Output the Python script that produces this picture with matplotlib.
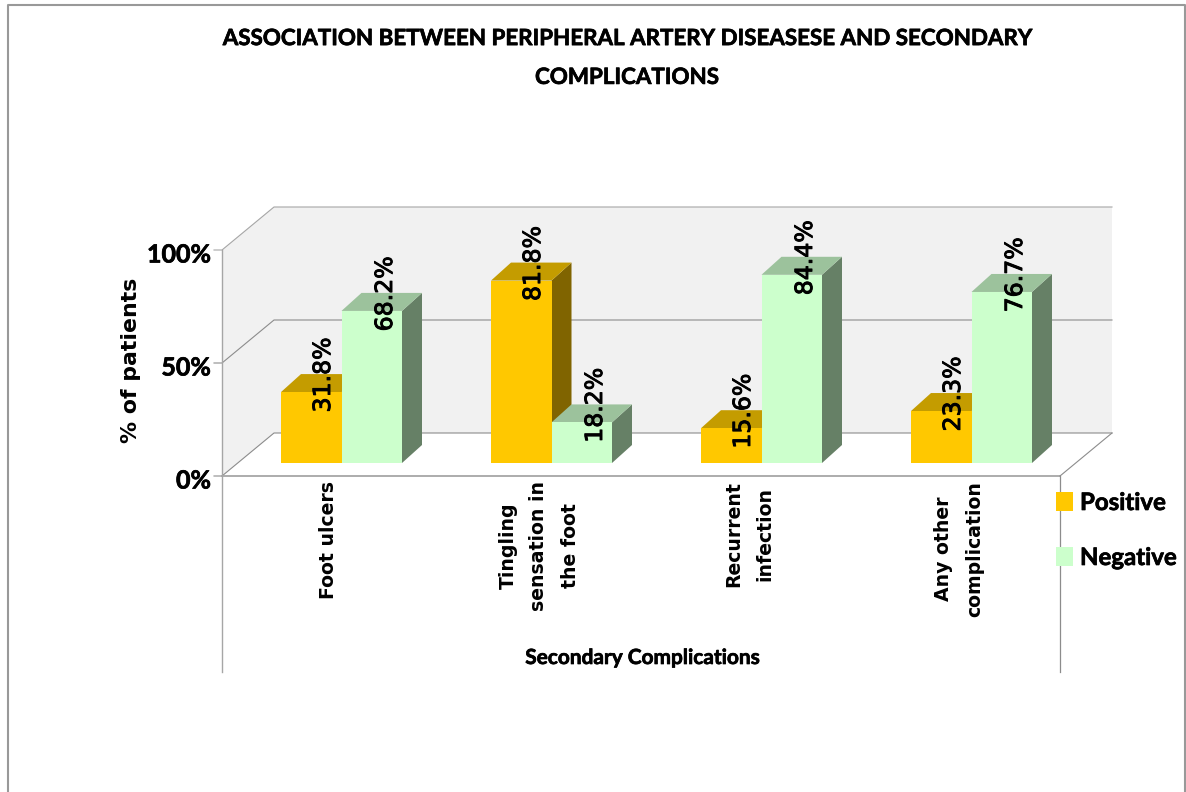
import matplotlib
matplotlib.use("Agg")
import matplotlib.pyplot as plt
import matplotlib.patheffects as pe
from matplotlib.patches import Polygon, Rectangle
from matplotlib.lines import Line2D

title = "ASSOCIATION BETWEEN PERIPHERAL ARTERY DISEASESE AND SECONDARY\nCOMPLICATIONS"
categories = ["Foot ulcers", "Tingling\nsensation in\nthe foot", "Recurrent\ninfection", "Any other\ncomplication"]
positive = [31.8, 81.8, 15.6, 23.3]
negative = [68.2, 18.2, 84.4, 76.7]
y_ticks = [0, 50, 100]
series_names = ["Positive", "Negative"]

W, H = 1186, 792
fig = plt.figure(figsize=(W / 100, H / 100), dpi=100, facecolor="white")
ax = fig.add_axes([0, 0, 1, 1])
ax.set_xlim(0, W)
ax.set_ylim(H, 0)
ax.axis("off")

# pixel geometry of the pseudo-3D plot box
x_front, x_right = 222, 1060
y0_front, y100_front = 476, 250
dx, dy = 52, -43
bar_base_y = 463
unit = 2.23
group_x = [281, 491, 701, 911]
bar_w = 60.5
depth_x, depth_y = 20, -18

POS_C = ("#ffc800", "#c49c00", "#806400")
NEG_C = ("#ccffcc", "#9cc29c", "#668066")
GRID = "#8c8c8c"
LIGHT = "#a6a6a6"

# Lato bold is a little thin at these sizes, so fatten it slightly
heavy = [pe.withStroke(linewidth=0.5, foreground="black")]
label_stroke = [pe.withStroke(linewidth=0.7, foreground="black")]


def poly(points, color, z=2):
    ax.add_patch(Polygon(points, closed=True, facecolor=color, edgecolor="none", zorder=z))


# outer chart frame, open at the bottom
ax.add_line(Line2D([8, 8, 1185, 1185], [H, 5, 5, H], color="#999999", lw=1.5, zorder=1))

# back wall and side wall
poly([(x_front + dx, y100_front + dy), (x_right + dx, y100_front + dy), (x_right + dx, y0_front + dy),
      (x_front + dx, y0_front + dy)], "#f1f1f1", z=1)
poly([(x_front, y100_front), (x_front + dx, y100_front + dy), (x_front + dx, y0_front + dy),
      (x_front, y0_front)], "#f1f1f1", z=1)

# gridlines, running along the side wall then across the back
for t in y_ticks:
    y = y0_front - t * (y0_front - y100_front) / 100
    color = LIGHT if t == 100 else GRID
    ax.add_line(Line2D([x_front - 8, x_front, x_front + dx, x_right + dx],
                       [y, y, y + dy, y + dy], color=color, lw=0.8, zorder=1.5))
    ax.text(211, y + 5, f"{t}%", ha="right", va="center", fontsize=18, fontweight="bold",
            family="Lato", color="black", path_effects=heavy)

# floor edges and axis lines
ax.add_line(Line2D([x_front, x_right], [y0_front, y0_front], color=LIGHT, lw=1.3, zorder=1.5))
ax.add_line(Line2D([x_right, x_right + dx], [y0_front, y0_front + dy], color=GRID, lw=0.8, zorder=1.5))
ax.add_line(Line2D([x_front, x_front], [y100_front, 672], color=LIGHT, lw=1.0, zorder=1.5))
ax.add_line(Line2D([x_right, x_right], [y0_front, 672], color=GRID, lw=0.9, zorder=1.5))


def bar3d(x, value, colors, z):
    top = bar_base_y - value * unit
    front, cap, side = colors
    poly([(x + bar_w, bar_base_y), (x + bar_w + depth_x, bar_base_y + depth_y),
          (x + bar_w + depth_x, top + depth_y), (x + bar_w, top)], side, z)
    poly([(x, top), (x + depth_x, top + depth_y), (x + bar_w + depth_x, top + depth_y), (x + bar_w, top)], cap, z)
    ax.add_patch(Rectangle((x, top), bar_w, bar_base_y - top, facecolor=front, edgecolor="none", zorder=z))
    return top


for i, gx in enumerate(group_x):
    top_p = bar3d(gx, positive[i], POS_C, 3 + i)
    top_n = bar3d(gx + bar_w, negative[i], NEG_C, 3.5 + i)
    ax.text(gx + 42, top_p - 17, f"{positive[i]:.1f}%", rotation=90, ha="center", va="center",
            fontsize=17, family="DejaVu Sans", zorder=10, path_effects=label_stroke)
    ax.text(gx + 104, top_n - 17, f"{negative[i]:.1f}%", rotation=90, ha="center", va="center",
            fontsize=17, family="DejaVu Sans", zorder=10, path_effects=label_stroke)
    ax.text(gx + 48, 481, categories[i], rotation=90, ha="center", va="top", multialignment="center",
            fontsize=13.6, fontweight="bold", family="DejaVu Sans", linespacing=1.8, zorder=10)

ax.text(627, 58, title, ha="center", va="center", fontsize=16.1, fontweight="bold",
        family="Lato", linespacing=2.05, path_effects=heavy)
ax.text(643, 658, "Secondary Complications", ha="center", va="center", fontsize=15, fontweight="bold",
        family="Lato", path_effects=heavy)
ax.text(131, 360, "% of patients", rotation=90, ha="center", va="center", fontsize=15.8, fontweight="bold",
        family="DejaVu Sans")

# legend
for y, name, c in zip([501.5, 556.5], series_names, [POS_C[0], NEG_C[0]]):
    ax.add_patch(Rectangle((1056, y - 9.5), 17, 19, facecolor=c, edgecolor="none", zorder=5))
    ax.text(1080, y + 1, name, ha="left", va="center", fontsize=17.3, fontweight="bold", family="Lato", zorder=6,
            path_effects=heavy)

fig.savefig("out.png", dpi=100)
plt.close(fig)
